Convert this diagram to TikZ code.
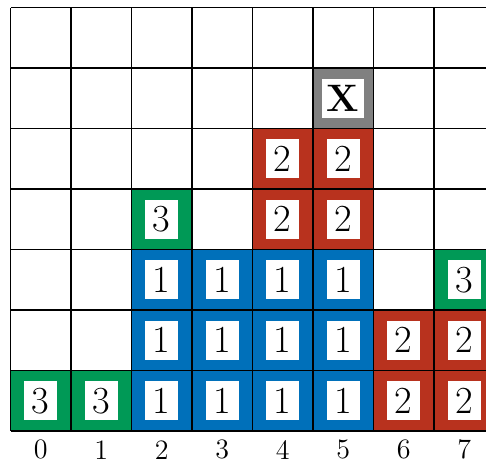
\documentclass[tikz,border=0pt]{standalone}
\begin{document}
\begin{tikzpicture}[x=1cm,y=1cm,
  gridline/.style={draw=black,line width=0.6pt},
  numbox/.style={fill=white,inner xsep=2.2pt,inner ysep=0pt,minimum width=15.5pt,minimum height=18.5pt,font=\fontsize{18}{21}\selectfont},
  axislabel/.style={font=\fontsize{13.2}{16}\selectfont},
]
\definecolor{cgreen}{RGB}{0,153,86}
\definecolor{cblue}{RGB}{0,112,186}
\definecolor{cred}{RGB}{184,50,30}
\definecolor{cgray}{RGB}{128,128,128}
\useasboundingbox (-0.1736,-0.529) rectangle (7.86,7.124);
% fills
\foreach \c/\r/\col in {0/0/cgreen,1/0/cgreen,2/0/cblue,3/0/cblue,4/0/cblue,5/0/cblue,6/0/cred,7/0/cred,
  2/1/cblue,3/1/cblue,4/1/cblue,5/1/cblue,6/1/cred,7/1/cred,
  2/2/cblue,3/2/cblue,4/2/cblue,5/2/cblue,7/2/cgreen,
  2/3/cgreen,4/3/cred,5/3/cred,4/4/cred,5/4/cred,5/5/cgray}
  \fill[\col] (\c,\r) rectangle ++(1,1);
% grid
\draw[gridline] (0,0) grid (8,7);
% numbers
\foreach \c/\r/\t in {0/0/3,1/0/3,2/0/1,3/0/1,4/0/1,5/0/1,6/0/2,7/0/2,
  2/1/1,3/1/1,4/1/1,5/1/1,6/1/2,7/1/2,
  2/2/1,3/2/1,4/2/1,5/2/1,7/2/3,
  2/3/3,4/3/2,5/3/2,4/4/2,5/4/2}
  \node[numbox] (n\c-\r) at (\c+0.5,\r+0.5) {\t};
\node[numbox] (x5-5) at (5.5,5.5) {\textbf{X}};
% axis labels
\foreach \c in {0,...,7}
  \node[axislabel] (l\c) at (\c+0.5,-0.31) {\c};
\end{tikzpicture}
\end{document}
